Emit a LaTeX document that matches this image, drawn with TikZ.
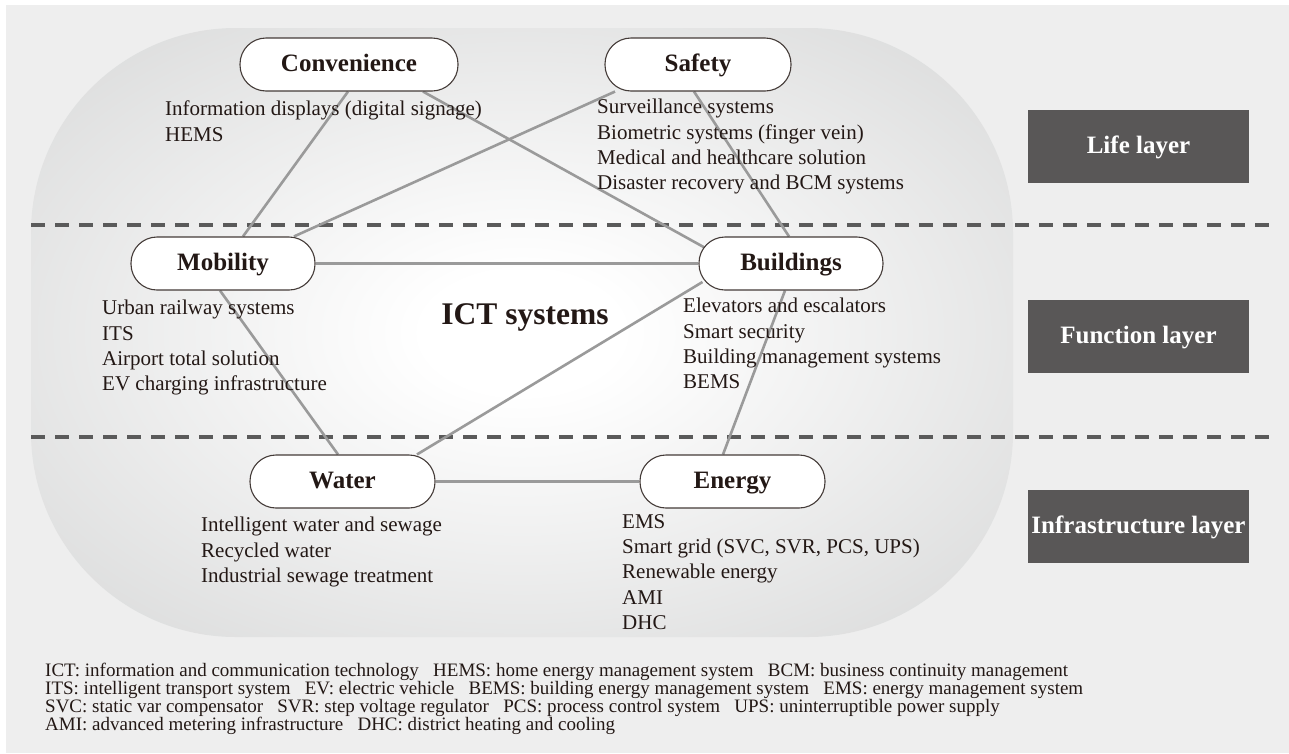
\documentclass[tikz,border=0pt]{standalone}
\usepackage{fontspec}
\setmainfont{Liberation Serif}
\usetikzlibrary{calc}
\definecolor{bggray}{HTML}{EEEEEE}
\definecolor{edgegray}{HTML}{C6C7C7}
\definecolor{layerfill}{HTML}{595757}
\definecolor{dashcol}{HTML}{5A5A5A}
\definecolor{linkcol}{HTML}{9A9A9A}
\definecolor{txt}{HTML}{231815}
\pgfdeclareradialshading{ictglow}{\pgfpoint{0bp}{0bp}}{color(0bp)=(white); color(5bp)=(white); color(50bp)=(edgegray); color(75bp)=(edgegray)}
\pgfdeclarelayer{back}
\pgfdeclarelayer{mid}
\pgfsetlayers{back,mid,main}
\tikzset{
  pill/.style={draw=txt!85, line width=1.1pt, fill=white, rounded corners=26pt, minimum height=53pt, font=\fontsize{25}{30}\selectfont\bfseries, text=txt, inner sep=0pt, text height=18pt, text depth=4pt},
  layerbox/.style={fill=layerfill, minimum width=221pt, minimum height=73pt, text=white, font=\fontsize{25}{30}\selectfont\bfseries, inner sep=0pt, text height=18pt, text depth=4pt},
  items/.style={anchor=north west, align=left, font=\fontsize{21}{25.3}\selectfont, text=txt, inner sep=0pt},
  link/.style={draw=linkcol, line width=2.6pt},
  layerline/.style={draw=dashcol, line width=4pt, dash pattern=on 14pt off 10pt},
  foot/.style={anchor=base west, font=\fontsize{19}{20}\selectfont, text=txt, inner sep=0pt},
}
\newcommand{\fsep}{\hspace{0.75em}}
\begin{document}
\begin{tikzpicture}[x=1pt,y=-1pt]
\useasboundingbox (0,0) rectangle (1289,753);

% nodes
\node[pill, minimum width=218pt] (conv) at (349,64.5) {Convenience};
\node[pill, minimum width=186pt] (safe) at (698,64.5) {Safety};
\node[pill, minimum width=184pt] (mob) at (223,263.5) {Mobility};
\node[pill, minimum width=184pt] (bld) at (791,263.5) {Buildings};
\node[pill, minimum width=185pt] (wat) at (342.5,481.5) {Water};
\node[pill, minimum width=185pt] (eng) at (732.5,481.5) {Energy};

\begin{pgfonlayer}{back}
  \fill[white] (0,0) rectangle (1289,753);
  \fill[bggray] (6,5) rectangle (1289,753);
  \path[shading=ictglow] (31,28) [rounded corners=205pt] rectangle (1013,637);
  \draw[layerline] (31,225) -- (1274,225);
  \draw[layerline] (31,437) -- (1274,437);
\end{pgfonlayer}

\begin{pgfonlayer}{mid}
  \draw[link] ([xshift=-1pt]conv.south) -- ([xshift=20pt]mob.north);
  \draw[link] ([xshift=74pt]conv.south) -- ([xshift=6pt,yshift=16pt]bld.west);
  \draw[link] ([xshift=-83pt]safe.south) -- ([xshift=71pt]mob.north);
  \draw[link] ([xshift=-4pt]safe.south) -- ([xshift=-2pt]bld.north);
  \draw[link] (mob.east) -- (bld.west);
  \draw[link] ([xshift=-3pt]mob.south) -- ([xshift=-4.5pt]wat.north);
  \draw[link] ([xshift=4pt,yshift=-18.5pt]bld.west) -- ([xshift=74.5pt]wat.north);
  \draw[link] ([xshift=-6pt]bld.south) -- ([xshift=-9.5pt]eng.north);
  \draw[link] (wat.east) -- (eng.west);
\end{pgfonlayer}

% item lists
\node[items] (convitems) at (165,101) {Information displays (digital signage)\\HEMS};
\node[items] (safeitems) at (597,99) {Surveillance systems\\Biometric systems (finger vein)\\Medical and healthcare solution\\Disaster recovery and BCM systems};
\node[items] (mobitems) at (102,300) {Urban railway systems\\ITS\\Airport total solution\\EV charging infrastructure};
\node[items] (blditems) at (683,298) {Elevators and escalators\\Smart security\\Building management systems\\BEMS};
\node[items] (watitems) at (201,517) {Intelligent water and sewage\\Recycled water\\Industrial sewage treatment};
\node[items] (engitems) at (622,514) {EMS\\Smart grid (SVC, SVR, PCS, UPS)\\Renewable energy\\AMI\\DHC};

\node[font=\fontsize{31.5}{36}\selectfont\bfseries, text=txt, inner sep=0pt] (ict) at (525,317) {ICT systems};

% layer labels
\node[layerbox] (life) at (1138.5,146.5) {Life layer};
\node[layerbox] (func) at (1138.5,336.5) {Function layer};
\node[layerbox] (infra) at (1138.5,526.5) {Infrastructure layer};

% footnote
\node[foot] (f1) at (45,676) {ICT: information and communication technology\fsep HEMS: home energy management system\fsep BCM: business continuity management};
\node[foot] (f2) at (45,694) {ITS: intelligent transport system\fsep EV: electric vehicle\fsep BEMS: building energy management system\fsep EMS: energy management system};
\node[foot] (f3) at (45,712) {SVC: static var compensator\fsep SVR: step voltage regulator\fsep PCS: process control system\fsep UPS: uninterruptible power supply};
\node[foot] (f4) at (45,730) {AMI: advanced metering infrastructure\fsep DHC: district heating and cooling};
\end{tikzpicture}
\end{document}
